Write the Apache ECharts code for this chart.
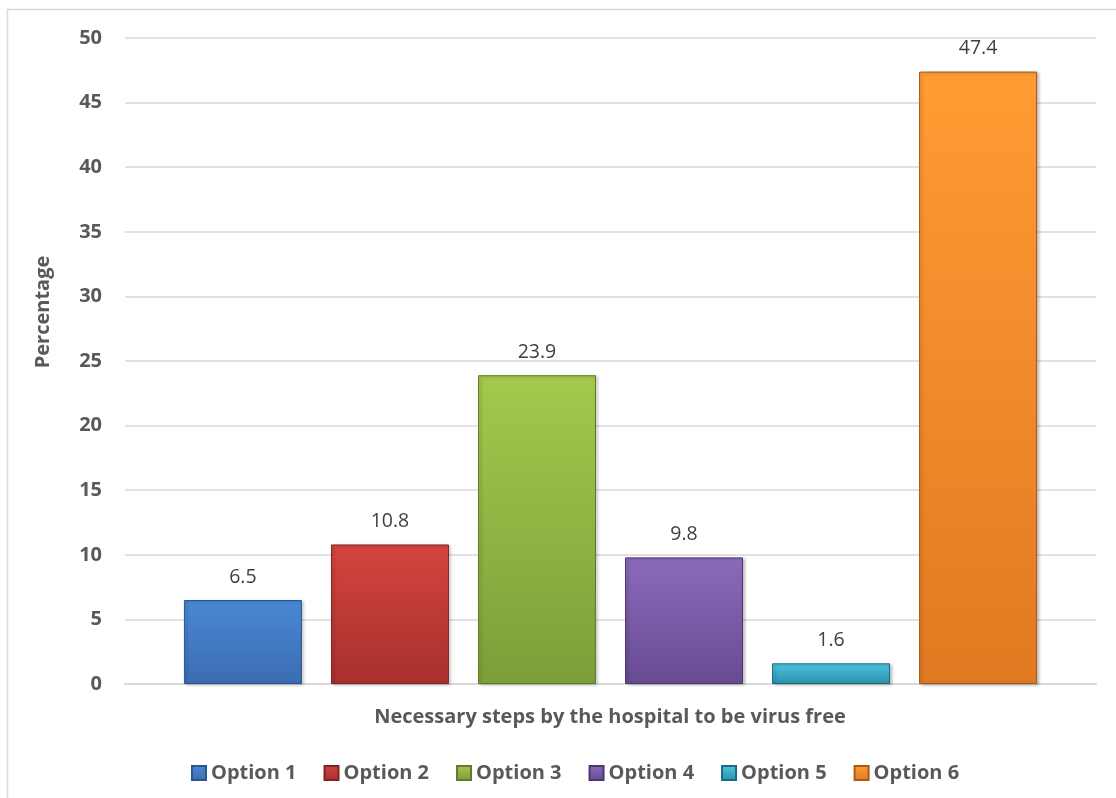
<!DOCTYPE html>
<html><head><meta charset="utf-8">
<script src="https://cdn.jsdelivr.net/npm/echarts@6/dist/echarts.min.js"></script>
<style>html,body{margin:0;padding:0;background:#fff}#c{width:1116px;height:798px}</style>
</head><body><div id="c"></div>
<script>
const categories = ['Necessary steps by the hospital to be virus free'];
const seriesNames = ['Option 1','Option 2','Option 3','Option 4','Option 5','Option 6'];
const seriesValues = [6.5, 10.8, 23.9, 9.8, 1.6, 47.4];
const yTicks = [0,5,10,15,20,25,30,35,40,45,50];
const topColors = ['#4a88d4','#d4443f','#a4c94c','#8b6abb','#4cc6e2','#ff9c33'];
const bottomColors = ['#3a6cb2','#a7302d','#7c9e39','#674b92','#2b8fab','#df7a22'];
const edgeColors = ['#2c5590','#7f2422','#5f7a2a','#4d376e','#1d6a80','#a85a18'];

const FONT = '"Open Sans", sans-serif';
const chart = echarts.init(document.getElementById('c'));
const series = seriesNames.map((n,i)=>({
  name:n, type:'bar', data:[seriesValues[i]],
  barWidth:118, barGap:'24.6%',
  itemStyle:{
    color:new echarts.graphic.LinearGradient(0,0,0,1,[{offset:0,color:topColors[i]},{offset:1,color:bottomColors[i]}]),
    borderColor:edgeColors[i], borderWidth:1,
    shadowColor:'rgba(0,0,0,0.25)', shadowBlur:3, shadowOffsetX:2, shadowOffsetY:1
  },
  label:{show:true, position:'top', distance:13, color:'#404040', fontSize:19.5, fontFamily:FONT, formatter:p=>p.value.toFixed(1)}
}));
chart.setOption({
  animation:false,
  grid:{left:125, right:20, top:38, bottom:114},
  legend:{left:186, top:758, itemWidth:14, itemHeight:14, itemGap:27,
    icon:'rect',
    textStyle:{color:'#595959', fontSize:20, fontWeight:'bold', fontFamily:FONT},
    data:seriesNames},
  xAxis:{type:'category', data:categories,
    axisLine:{lineStyle:{color:'#d9d9d9', width:2}}, axisTick:{show:false}, axisLabel:{show:false}},
  yAxis:{type:'value', min:yTicks[0], max:yTicks[yTicks.length-1], interval:5,
    axisLine:{show:false}, axisTick:{show:false},
    splitLine:{lineStyle:{color:'#d9d9d9', width:1.5}},
    axisLabel:{color:'#595959', fontSize:20, fontWeight:'bold', fontFamily:FONT, margin:23}},
  graphic:[
    {type:'rect', shape:{x:7.5,y:9.5,width:1200,height:900}, style:{fill:null, stroke:'#d9d9d9', lineWidth:1.5}, silent:true, z:-1},
    {type:'text', x:610, y:717, style:{text:categories[0], fill:'#595959', font:'bold 20px '+FONT, textAlign:'center', textVerticalAlign:'middle'}},
    {type:'text', x:43, y:312, rotation:Math.PI/2, style:{text:'Percentage', fill:'#595959', font:'bold 20px '+FONT, textAlign:'center', textVerticalAlign:'middle'}}
  ],
  series:series
});
</script></body></html>
